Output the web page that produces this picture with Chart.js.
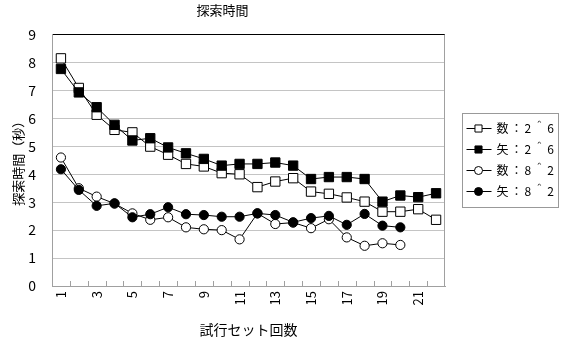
<!DOCTYPE html>
<html>
<head>
<meta charset="utf-8">
<script src="https://cdn.jsdelivr.net/npm/chart.js@4/dist/chart.umd.min.js"></script>
<style>
  html, body { margin: 0; padding: 0; background: #fff; }
  #wrap { width: 565px; height: 344px; position: relative; }
</style>
</head>
<body>
<div id="wrap"><canvas id="searchChart"></canvas></div>
<script>
// 試行セット (1〜22)
const categories = ['1', '2', '3', '4', '5', '6', '7', '8', '9', '10', '11',
                    '12', '13', '14', '15', '16', '17', '18', '19', '20', '21', '22'];

// 探索時間 (秒)
const kazu26 = [8.15, 7.09, 6.13, 5.59, 5.50, 4.99, 4.70, 4.37, 4.28, 4.04, 4.00,
                3.54, 3.74, 3.86, 3.38, 3.30, 3.17, 3.02, 2.66, 2.66, 2.75, 2.37];
const ya26   = [7.77, 6.93, 6.40, 5.77, 5.21, 5.29, 4.96, 4.75, 4.55, 4.31, 4.37,
                4.37, 4.42, 4.31, 3.83, 3.90, 3.90, 3.83, 3.02, 3.24, 3.18, 3.32];
const kazu82 = [4.60, 3.50, 3.20, 2.95, 2.60, 2.37, 2.46, 2.10, 2.03, 2.00, 1.67,
                2.60, 2.22, 2.27, 2.07, 2.39, 1.74, 1.44, 1.53, 1.47];
const ya82   = [4.18, 3.44, 2.87, 2.96, 2.46, 2.57, 2.82, 2.57, 2.54, 2.48, 2.48,
                2.60, 2.54, 2.28, 2.43, 2.51, 2.19, 2.58, 2.16, 2.10];

const seriesNames = ['数：2＾6', '矢：2＾6', '数：8＾2', '矢：8＾2'];
const yTicks = [0, 1, 2, 3, 4, 5, 6, 7, 8, 9];

const FONT = '"Noto Sans CJK JP", "Noto Sans", sans-serif';
Chart.defaults.font.family = FONT;
Chart.defaults.color = '#000';

function series(label, data, style, radius, filled, order) {
    return {
        label: label,
        data: data,
        order: order,
        borderColor: '#000',
        borderWidth: 1,
        backgroundColor: filled ? '#000' : '#fff',
        pointStyle: style,
        pointRadius: radius,
        pointHoverRadius: radius,
        pointBorderWidth: 1,
        pointBorderColor: '#000',
        pointBackgroundColor: filled ? '#000' : '#fff',
        tension: 0,
        fill: false
    };
}

// 枠線、内向きの目盛り、縦書きの x ラベル (奇数回のみ)
const framePlugin = {
    id: 'frame',
    afterDatasetsDraw(chart) {
        const { ctx, chartArea: a, scales } = chart;
        const xs = scales.x;
        ctx.save();
        ctx.strokeStyle = '#a0a0a0';
        ctx.lineWidth = 1;
        ctx.beginPath();
        ctx.moveTo(a.right - 0.5, a.top);
        ctx.lineTo(a.right - 0.5, a.bottom);
        const n = xs.ticks.length;
        const step = (a.right - a.left) / n;
        for (let i = 1; i < n; i++) {
            const x = Math.round(a.left + i * step) + 0.5;
            ctx.moveTo(x, a.bottom);
            ctx.lineTo(x, a.bottom - 5);
        }
        ctx.stroke();

        ctx.fillStyle = '#000';
        ctx.font = '13px ' + FONT;
        ctx.textAlign = 'right';
        ctx.textBaseline = 'middle';
        categories.forEach((lab, i) => {
            if (i % 2 !== 0) return;
            ctx.save();
            ctx.translate(xs.getPixelForTick(i), a.bottom + 5);
            ctx.rotate(-Math.PI / 2);
            ctx.fillText(lab, 0, 0);
            ctx.restore();
        });
        ctx.restore();
    }
};

// 凡例 (枠付き)
const legendPlugin = {
    id: 'boxLegend',
    afterDraw(chart) {
        const { ctx, chartArea: a } = chart;
        const left = a.right + 17.5, top = 113.5, w = 96, h = 94;
        ctx.save();
        ctx.strokeStyle = '#999';
        ctx.lineWidth = 1;
        ctx.strokeRect(left, top, w, h);
        chart.data.datasets.forEach((ds, i) => {
            const y = top + 15 + i * 21;
            ctx.strokeStyle = '#000';
            ctx.beginPath();
            ctx.moveTo(left + 4, y);
            ctx.lineTo(left + 29, y);
            ctx.stroke();
            ctx.fillStyle = ds.pointBackgroundColor;
            ctx.strokeStyle = '#000';
            Chart.helpers.drawPoint(ctx, {
                pointStyle: ds.pointStyle,
                rotation: 0,
                radius: ds.pointStyle === 'rect' ? 5 : 4,
                borderWidth: 1
            }, left + 16, y);
            ctx.fillStyle = '#000';
            ctx.font = '12px ' + FONT;
            ctx.letterSpacing = '2px';
            ctx.textBaseline = 'middle';
            ctx.textAlign = 'left';
            ctx.fillText(ds.label, left + 34, y);
        });
        ctx.restore();
    }
};

new Chart(document.getElementById('searchChart'), {
    type: 'line',
    data: {
        labels: categories,
        datasets: [
            series(seriesNames[0], kazu26, 'rect', 6.6, false, 3),
            series(seriesNames[1], ya26, 'rect', 6.6, true, 2),
            series(seriesNames[2], kazu82, 'circle', 4.6, false, 1),
            series(seriesNames[3], ya82, 'circle', 4.6, true, 0)
        ]
    },
    options: {
        responsive: true,
        maintainAspectRatio: false,
        animation: false,
        devicePixelRatio: 1,
        layout: { padding: { left: 0, right: 120, top: 0, bottom: 0 } },
        plugins: {
            legend: { display: false },
            tooltip: { enabled: false },
            title: {
                display: true,
                text: '探索時間',
                font: { size: 13, weight: 'normal', lineHeight: 1.2 },
                color: '#000',
                padding: { top: 2, bottom: 17 }
            }
        },
        scales: {
            x: {
                type: 'category',
                offset: true,
                afterFit: s => { s.height = 58; },
                grid: { display: false, drawTicks: false },
                border: { display: true, color: '#a0a0a0', width: 1 },
                ticks: { display: false, autoSkip: false },
                title: {
                    display: true,
                    text: '試行セット回数',
                    font: { size: 14, lineHeight: 1.2 },
                    color: '#000',
                    padding: { top: 2, bottom: 6 }
                }
            },
            y: {
                min: 0,
                max: 9,
                afterFit: s => { s.width = 52; },
                afterBuildTicks: s => { s.ticks = yTicks.map(v => ({ value: v })); },
                grid: {
                    drawTicks: false,
                    color: c => (c.tick.value === 9 ? '#000' : '#c4c4c4'),
                    lineWidth: 1
                },
                border: { display: true, color: '#a0a0a0', width: 1 },
                ticks: {
                    padding: 16,
                    font: { size: 14 },
                    color: '#000'
                },
                title: {
                    display: true,
                    text: '探索時間（秒）',
                    font: { size: 13, lineHeight: 1.2 },
                    color: '#000',
                    padding: { top: 10, bottom: 0 }
                }
            }
        }
    },
    plugins: [framePlugin, legendPlugin]
});
</script>
</body>
</html>
